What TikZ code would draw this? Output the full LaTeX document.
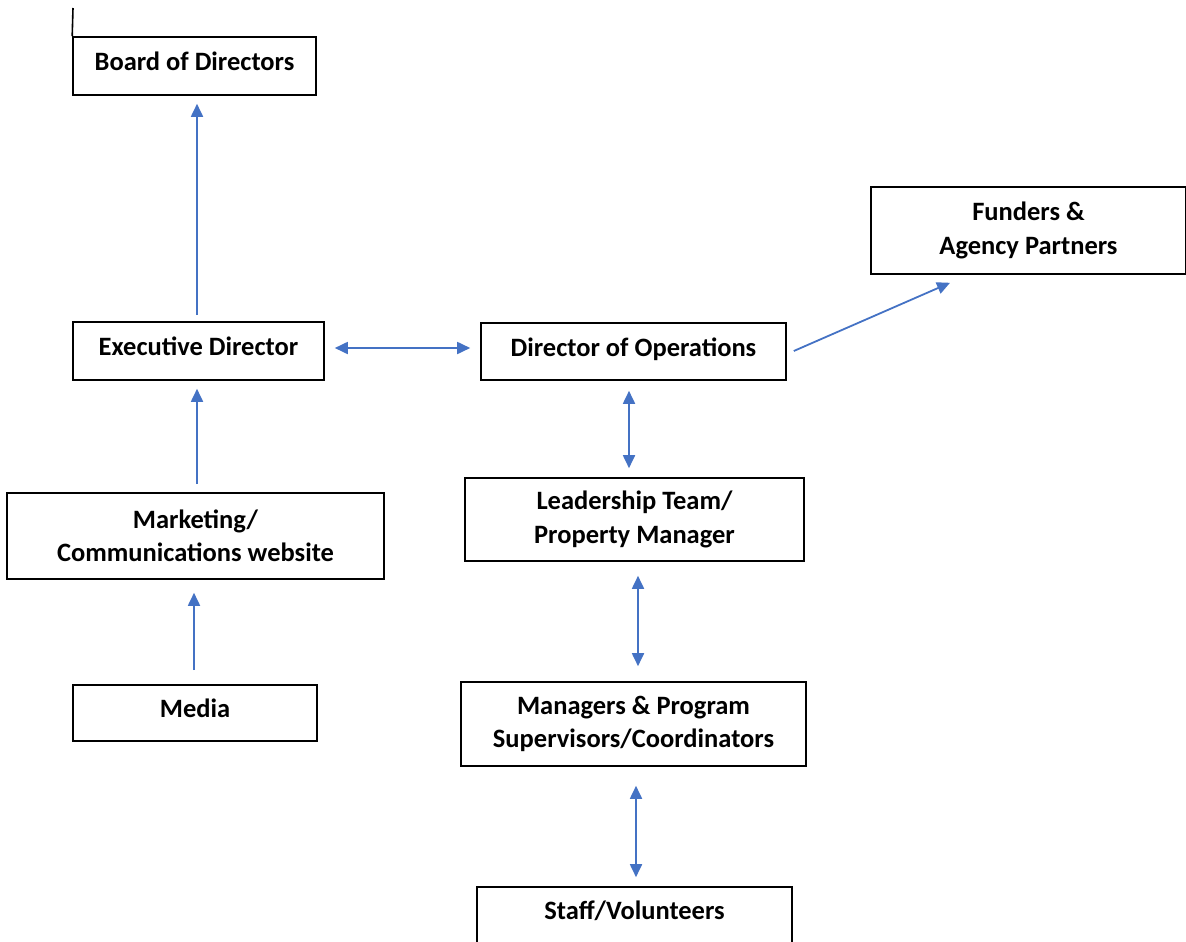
\documentclass[tikz,border=0pt]{standalone}
\usepackage{fontspec}
\setmainfont{Carlito}
\usetikzlibrary{arrows.meta,calc}
\definecolor{arrblue}{HTML}{4472C4}
\tikzset{
  box/.style={draw=black, line width=1.6pt, rectangle, inner sep=0pt, align=center,
    font=\fontsize{26.5}{33.5}\selectfont\bfseries},
  oneline/.style={text height=18pt, text depth=9pt},
  txt/.style={inner sep=0pt, align=center, font=\fontsize{26.5}{33.5}\selectfont\bfseries},
  arr/.style={draw=arrblue, line width=1.8pt, -{Triangle[length=13pt,width=12pt]}},
  darr/.style={draw=arrblue, line width=1.8pt, {Triangle[length=13pt,width=12pt]}-{Triangle[length=13pt,width=12pt]}}
}
\begin{document}
\begin{tikzpicture}[x=1pt,y=-1pt]
\useasboundingbox (0,0) rectangle (1186,942);
\clip (0,0) rectangle (1186,942);
\node[box, oneline, minimum width=243pt, minimum height=58pt] (board) at (194.5,66) {Board of Directors};
\coordinate (topline) at (73,8);
\draw[line width=1.6pt] (topline) -- (board.north west);
\node[box, minimum width=315pt, minimum height=87pt] (funders) at (1028.5,230.5) {Funders \&\\Agency Partners};
\node[box, oneline, minimum width=251pt, minimum height=58pt] (exec) at (198.5,351) {Executive Director};
\node[box, oneline, minimum width=305pt, minimum height=57pt] (dirops) at (633.5,351.5) {Director of Operations};
\node[box, minimum width=377pt, minimum height=86pt] (mkt) at (195.5,536) {Marketing/\\Communications website};
\node[box, minimum width=339pt, minimum height=83pt] (lead) at (634.5,519.5) {Leadership Team/\\Property Manager};
\node[box, oneline, minimum width=244pt, minimum height=56pt] (media) at (195,713) {Media};
\node[box, minimum width=345pt, minimum height=84pt] (mgr) at (633.5,724) {Managers \& Program\\Supervisors/Coordinators};
\node[box, minimum width=315pt, minimum height=70pt] (staff) at (634.5,922) {};
\node[txt] (stafftext) at (634.5,911) {Staff/Volunteers};

\draw[arr, shorten <=6pt, shorten >=8pt] ($(exec.north)+(-1.5,0)$) -- ($(board.south)+(2.5,0)$);
\draw[arr, shorten <=8pt, shorten >=8pt] ($(mkt.north)+(1.5,0)$) -- ($(exec.south)+(-1.5,0)$);
\draw[arr, shorten <=14pt, shorten >=13pt] ($(media.north)+(-1,0)$) -- ($(mkt.south)+(-1.5,0)$);
\draw[darr, shorten <=10pt, shorten >=10pt] ($(exec.east)+(0,-3)$) -- ($(dirops.west)+(0,-3.5)$);
\draw[darr, shorten <=10pt, shorten >=9pt] ($(dirops.south)+(-4.5,0)$) -- ($(lead.north)+(-5.5,0)$);
\draw[darr, shorten <=14pt, shorten >=15pt] ($(lead.south)+(3.5,0)$) -- ($(mgr.north)+(4.5,0)$);
\draw[darr, shorten <=19pt, shorten >=9pt] ($(mgr.south)+(2.5,0)$) -- ($(staff.north)+(1.5,0)$);
\draw[arr] ($(dirops.east)+(7,-0.5)$) -- ($(funders.south)+(-78.5,8)$);
\end{tikzpicture}
\end{document}
